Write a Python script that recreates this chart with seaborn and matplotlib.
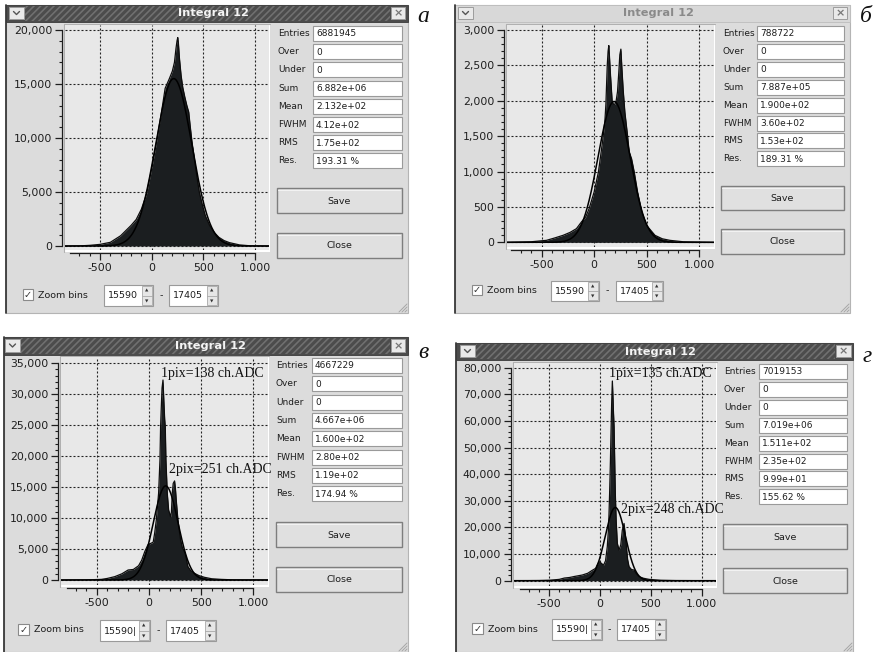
import matplotlib
matplotlib.use("Agg")
import matplotlib.pyplot as plt
from matplotlib.patches import Rectangle
from matplotlib.ticker import FixedLocator
import numpy as np
import seaborn as sns

# ---------------- histogram data (ADC channel, counts) ----------------
A_X = [-840, -700, -600, -500, -400, -300, -200, -150, -100, -50, 0, 50, 100, 130,
       171, 200, 220, 235, 245, 252, 258, 268, 284, 300, 320, 340, 358, 371, 390,
       413, 437, 461, 490, 519, 560, 606, 650, 700, 752, 850, 950, 1140]
A_Y = [0, 10, 60, 150, 340, 950, 1900, 2450, 3400, 4800, 7150, 9800, 12700, 14600,
       15500, 16200, 17000, 18300, 19000, 19300, 18800, 17400, 15800, 14700, 13800,
       13000, 12400, 11200, 9600, 8060, 6400, 4960, 3800, 2790, 1900, 1240, 800, 500,
       310, 100, 20, 0]

B_X = [-840, -600, -455, -380, -296, -230, -169, -121, -80, -48, 0, 41, 80, 102, 112,
       125, 133, 140, 147, 156, 165, 172, 185, 197, 210, 223, 235, 245, 255, 265, 277,
       293, 318, 334, 357, 382, 414, 455, 500, 580, 650, 723, 850, 1140]
B_Y = [0, 8, 28, 60, 99, 140, 193, 288, 360, 476, 712, 995, 1420, 1703, 1950,
       2500, 2700, 2780, 2600, 2360, 2150, 1990, 1950, 1950, 2000, 2130, 2400, 2650,
       2730, 2450, 2150, 1840, 1514, 1280, 1180, 995, 712, 429, 240, 99, 50, 28, 8, 0]

C_X = [-843, -600, -455, -400, -328, -260, -200, -150, -100, -70, -40, -10, 15, 40, 54,
       70, 92, 105, 111, 118, 125, 134, 142, 150, 156, 162, 175, 188, 207, 215, 223,
       232, 245, 253, 261, 277, 290, 303, 320, 347, 360, 373, 400, 436, 480, 532, 600,
       691, 800, 1140]
C_Y = [0, 20, 100, 250, 540, 1000, 1615, 1700, 2300, 3200, 4600, 5700, 5900, 6100, 7540,
       9690, 14000, 19400, 24700, 28000, 31000, 32300, 29000, 26000, 24700, 19400,
       14000, 11300, 10200, 11000, 14000, 15600, 16000, 14800, 12900, 9690, 8000, 6460,
       5200, 4300, 3200, 2150, 1500, 1077, 700, 430, 200, 100, 30, 0]

D_X = [-846, -600, -500, -400, -350, -300, -250, -174, -120, -80, -43, -20, -5, 15, 35,
       55, 72, 85, 95, 103, 110, 116, 122, 129, 132, 139, 145, 151, 160, 171, 188, 205,
       220, 237, 250, 260, 272, 286, 310, 336, 360, 385, 430, 484, 600, 750, 1142]
D_Y = [0, 50, 150, 500, 1000, 1200, 1600, 2130, 2800, 3800, 4630, 6500, 7100, 6500, 5800,
       7500, 12770, 20000, 32800, 45000, 57800, 68000, 75000, 68000, 64000, 57800,
       45000, 32800, 22000, 14000, 11500, 13500, 19000, 21500, 17000, 12770, 8000, 5260,
       4200, 4000, 2500, 1500, 900, 500, 150, 50, 0]

HIST_X = [A_X, B_X, C_X, D_X]
HIST_Y = [A_Y, B_Y, C_Y, D_Y]

# Gaussian fit: amplitude, mean and FWHM of each spectrum
FIT_AMP = [15500, 1990, 15200, 27500]
FIT_MEAN = [213.2, 190.0, 160.0, 151.1]
FIT_FWHM = [412, 360, 280, 235]

# ---------------- statistics panel ----------------
STAT_NAMES = ["Entries", "Over", "Under", "Sum", "Mean", "FWHM", "RMS", "Res."]
A_STATS = ["6881945", "0", "0", "6.882e+06", "2.132e+02", "4.12e+02", "1.75e+02", "193.31 %"]
B_STATS = ["788722", "0", "0", "7.887e+05", "1.900e+02", "3.60e+02", "1.53e+02", "189.31 %"]
C_STATS = ["4667229", "0", "0", "4.667e+06", "1.600e+02", "2.80e+02", "1.19e+02", "174.94 %"]
D_STATS = ["7019153", "0", "0", "7.019e+06", "1.511e+02", "2.35e+02", "9.99e+01", "155.62 %"]
STATS = [A_STATS, B_STATS, C_STATS, D_STATS]

# ---------------- axes ticks ----------------
X_TICKS = [-500, 0, 500, 1000]
X_TICK_LABELS = ["-500", "0", "500", "1.000"]
A_YTICKS = [0, 5000, 10000, 15000, 20000]
B_YTICKS = [0, 500, 1000, 1500, 2000, 2500, 3000]
C_YTICKS = [0, 5000, 10000, 15000, 20000, 25000, 30000, 35000]
D_YTICKS = [0, 10000, 20000, 30000, 40000, 50000, 60000, 70000, 80000]
Y_TICKS = [A_YTICKS, B_YTICKS, C_YTICKS, D_YTICKS]
Y_MINOR_STEP = [1000, 100, 1000, 2000]

WINDOW_TITLE = "Integral 12"
ZOOM_LABEL = "Zoom bins"
BIN_FROM = ["15590", "15590", "15590|", "15590|"]
BIN_TO = "17405"
PANEL_LETTERS = ["а", "б", "в", "г"]
PEAK_NOTES = [[], [], ["1pix=138 ch.ADC", "2pix=251 ch.ADC"],
              ["1pix=135 ch.ADC", "2pix=248 ch.ADC"]]

# ---------------- window geometry (pixels) ----------------
LAYOUT = [
    dict(win=(6, 5, 408, 313), title_h=17, dark=True, chev=(9, 7, 24, 19), close=(391, 7, 405, 19),
         title_xy=(213, 13.5), plot=(65, 25, 269, 250), xlim=(-838, 1134), ylim=(-370, 20463),
         stat_x=(313, 402), stat_top=26, stat_step=18.2, label_x=278,
         save=(277, 188, 402, 213), closeb=(277, 233, 402, 258),
         cb=(23, 289, 33, 300), zoom_x=38, spin1=(104, 285, 153, 306), dash_x=161,
         spin2=(169, 285, 218, 306), letter=(423, 16), notes=[]),
    dict(win=(455, 5, 850, 313), title_h=17, dark=False, chev=(458, 7, 473, 19), close=(833, 7, 847, 19),
         title_xy=(658, 13.5), plot=(507, 25, 714, 247), xlim=(-831, 1143), ylim=(-66, 3071),
         stat_x=(757, 844), stat_top=26, stat_step=17.9, label_x=723,
         save=(721, 186, 844, 210), closeb=(721, 229, 844, 254),
         cb=(472, 285, 482, 295), zoom_x=487, spin1=(551, 281, 599, 301), dash_x=607,
         spin2=(616, 281, 663, 301), letter=(866, 17), notes=[]),
    dict(win=(4, 337, 408, 652), title_h=18, dark=True, chev=(5, 339, 20, 352), close=(391, 339, 405, 352),
         title_xy=(210, 346), plot=(61, 357, 268, 585), xlim=(-843, 1140), ylim=(-808, 36018),
         stat_x=(312, 402), stat_top=358, stat_step=18.3, label_x=276,
         save=(276, 522, 402, 547), closeb=(276, 567, 402, 592),
         cb=(18, 624, 29, 635), zoom_x=34, spin1=(100, 620, 150, 641), dash_x=158,
         spin2=(166, 620, 216, 641), letter=(423, 353), notes=[(212, 373), (220, 470)]),
    dict(win=(456, 343, 853, 652), title_h=17, dark=True, chev=(460, 345, 475, 357), close=(836, 345, 851, 357),
         title_xy=(660, 352), plot=(514, 363, 716, 586), xlim=(-846, 1142), ylim=(-1990, 81765),
         stat_x=(759, 847), stat_top=364, stat_step=17.9, label_x=724,
         save=(723, 524, 847, 549), closeb=(723, 568, 847, 593),
         cb=(472, 623, 483, 634), zoom_x=488, spin1=(552, 619, 602, 640), dash_x=609,
         spin2=(617, 619, 666, 640), letter=(867, 357), notes=[(660, 373), (672, 510)]),
]

W, H = 879, 652
sns.set_theme(style="white")
plt.rcParams["font.family"] = ["DejaVu Sans"]
plt.rcParams["hatch.linewidth"] = 1.2

INK = "#1e1e1e"
WIN_BG = "#dcdcdc"
PLOT_BG = "#e8e8e8"

fig = plt.figure(figsize=(W / 100, H / 100), dpi=100)
fig.patch.set_facecolor("white")

chrome = fig.add_axes([0, 0, 1, 1])
chrome.set_xlim(0, W)
chrome.set_ylim(H, 0)
chrome.axis("off")


def box(r, fc, ec, lw=0.8, z=1, **kw):
    x0, y0, x1, y1 = r
    p = Rectangle((x0, y0), x1 - x0, y1 - y0, facecolor=fc, edgecolor=ec, lw=lw, zorder=z, **kw)
    chrome.add_patch(p)
    return p


def px_rect(r):
    x0, y0, x1, y1 = r
    return [x0 / W, 1 - y1 / H, (x1 - x0) / W, (y1 - y0) / H]


def spinbox(r, text):
    x0, y0, x1, y1 = r
    box(r, "white", "#9a9a9a", lw=0.8, z=2)
    box((x1 - 11, y0 + 1, x1 - 1, y1 - 1), "#e6e6e6", "#a8a8a8", lw=0.6, z=3)
    ym = (y0 + y1) / 2
    chrome.plot([x1 - 11, x1 - 1], [ym, ym], color="#a8a8a8", lw=0.6, zorder=4)
    chrome.text(x1 - 6, (y0 + ym) / 2 + 0.5, "▲", fontsize=3.2, color="#333",
                ha="center", va="center", zorder=5)
    chrome.text(x1 - 6, (ym + y1) / 2 + 0.5, "▼", fontsize=3.2, color="#333",
                ha="center", va="center", zorder=5)
    chrome.text(x0 + 4, ym + 0.5, text, fontsize=6.8, color=INK, ha="left", va="center", zorder=5)


def button(r, text):
    x0, y0, x1, y1 = r
    box(r, "#e0e0e0", "#7e7e7e", lw=1.0, z=2)
    chrome.plot([x0 + 1.5, x1 - 1.5], [y0 + 1.5, y0 + 1.5], color="#f2f2f2", lw=0.8, zorder=3)
    chrome.text((x0 + x1) / 2, (y0 + y1) / 2 + 0.5, text, fontsize=6.8, color=INK,
                ha="center", va="center", zorder=4)


for i, L in enumerate(LAYOUT):
    wx0, wy0, wx1, wy1 = L["win"]
    # window body
    box(L["win"], WIN_BG, "#b4b4b4", lw=0.8, z=1)
    chrome.plot([wx0, wx0], [wy0, wy1], color="#3a3a3a", lw=1.3, zorder=6)

    # title bar
    ty1 = wy0 + L["title_h"]
    if L["dark"]:
        box((wx0, wy0, wx1, ty1), "#4c4c4c", "#3a3a3a", lw=0.6, z=2)
        box((L["chev"][2] + 1, wy0 + 1, L["close"][0] - 1, ty1 - 1), "none", "#707070",
            lw=0, z=3, hatch="/////")
        tcolor = "#f4f4f4"
    else:
        box((wx0, wy0, wx1, ty1), "#d8d8d8", "#bdbdbd", lw=0.6, z=2)
        tcolor = "#8a8a8a"
    box(L["chev"], "#e9e9e9", "#9c9c9c", lw=0.7, z=4)
    cx = (L["chev"][0] + L["chev"][2]) / 2
    cy = (L["chev"][1] + L["chev"][3]) / 2
    chrome.plot([cx - 3, cx, cx + 3], [cy - 1.5, cy + 1.5, cy - 1.5], color="#555", lw=1.0, zorder=5)
    box(L["close"], "#e9e9e9", "#9c9c9c", lw=0.7, z=4)
    chrome.text((L["close"][0] + L["close"][2]) / 2, (L["close"][1] + L["close"][3]) / 2 + 0.5, "×",
                fontsize=8, fontweight="bold", color="#777", ha="center", va="center", zorder=5)
    chrome.text(L["title_xy"][0], L["title_xy"][1], WINDOW_TITLE, fontsize=8.2, fontweight="bold",
                color=tcolor, ha="center", va="center", zorder=5)

    # frame around the plotting area
    px0, py0, px1, py1 = L["plot"]
    box((px0 - 1, py0 - 1, px1 + 1.5, py1 + 1.5), "white", "none", lw=0, z=2)
    chrome.plot([px0 - 1, px1 + 1.5], [py0 - 1, py0 - 1], color="#b0b0b0", lw=0.8, zorder=3)
    chrome.plot([px0 - 1, px0 - 1], [py0 - 1, py1 + 1.5], color="#b0b0b0", lw=0.8, zorder=3)

    # statistics rows
    sx0, sx1 = L["stat_x"]
    for k, (name, val) in enumerate(zip(STAT_NAMES, STATS[i])):
        y0 = L["stat_top"] + k * L["stat_step"]
        box((sx0, y0, sx1, y0 + 15), "white", "#9a9a9a", lw=0.8, z=2)
        chrome.text(L["label_x"], y0 + 7.5, name, fontsize=6.5, color=INK, ha="left", va="center", zorder=3)
        chrome.text(sx0 + 3, y0 + 8, val, fontsize=6.5, color=INK, ha="left", va="center", zorder=3)

    button(L["save"], "Save")
    button(L["closeb"], "Close")

    # zoom-bins controls
    box(L["cb"], "white", "#8a8a8a", lw=0.8, z=2)
    cbx = (L["cb"][0] + L["cb"][2]) / 2
    cby = (L["cb"][1] + L["cb"][3]) / 2
    chrome.text(cbx, cby + 0.5, "✓", fontsize=7, color="#333", ha="center", va="center", zorder=3)
    chrome.text(L["zoom_x"], cby + 0.5, ZOOM_LABEL, fontsize=6.8, color=INK, ha="left", va="center", zorder=3)
    spinbox(L["spin1"], BIN_FROM[i])
    chrome.text(L["dash_x"], (L["spin1"][1] + L["spin1"][3]) / 2, "-", fontsize=6.8, color=INK,
                ha="center", va="center", zorder=3)
    spinbox(L["spin2"], BIN_TO)

    # resize grip
    for d in (3, 6, 9):
        chrome.plot([wx1 - d, wx1 - 1], [wy1 - 1, wy1 - d], color="#a6a6a6", lw=0.7, zorder=3)

    # panel letter
    chrome.text(L["letter"][0], L["letter"][1], PANEL_LETTERS[i], fontsize=17, fontstyle="italic",
                family=["Liberation Serif", "DejaVu Serif"], color="#111", ha="center", va="center")

    # ---------------- spectrum ----------------
    ax = fig.add_axes(px_rect(L["plot"]))
    ax.set_facecolor(PLOT_BG)
    ax.set_xlim(*L["xlim"])
    ax.set_ylim(*L["ylim"])
    ax.set_axisbelow(True)

    hx = np.asarray(HIST_X[i], dtype=float)
    hy = np.asarray(HIST_Y[i], dtype=float)
    ax.fill_between(hx, 0, hy, color="#1b1e20", lw=0, zorder=2)
    sns.lineplot(x=hx, y=hy, ax=ax, color="#0d0d0d", lw=0.9, zorder=3, sort=False)

    sigma = FIT_FWHM[i] / 2.3548
    fx = np.linspace(L["xlim"][0], L["xlim"][1], 500)
    fy = FIT_AMP[i] * np.exp(-0.5 * ((fx - FIT_MEAN[i]) / sigma) ** 2)
    sns.lineplot(x=fx, y=fy, ax=ax, color="#000000", lw=1.1, zorder=4, sort=False)

    yt = Y_TICKS[i]
    ax.set_yticks(yt)
    ax.set_yticklabels([f"{v:,}" for v in yt])
    ax.set_xticks(X_TICKS)
    ax.set_xticklabels(X_TICK_LABELS)
    step = Y_MINOR_STEP[i]
    ax.yaxis.set_minor_locator(FixedLocator([v for v in range(0, yt[-1], step) if v not in yt]))
    ax.xaxis.set_minor_locator(FixedLocator([v for v in range(-700, 1000, 100) if v not in X_TICKS]))

    for s in ("top", "right"):
        ax.spines[s].set_visible(False)
    for s in ("left", "bottom"):
        ax.spines[s].set_visible(True)
        ax.spines[s].set_color(INK)
        ax.spines[s].set_linewidth(0.9)
        ax.spines[s].set_position(("outward", 2.2))
    ax.spines["left"].set_bounds(0, yt[-1])
    ax.spines["bottom"].set_bounds(-790, 1000)

    ax.tick_params(which="major", length=5, width=0.9, color=INK, labelsize=7.8,
                   labelcolor=INK, pad=2, left=True, bottom=True)
    ax.tick_params(which="minor", length=2.5, width=0.8, color=INK, left=True, bottom=True)
    ax.grid(True, which="major", color="#222222", lw=0.8, linestyle=(0, (1.8, 1.8)))
    ax.set_xlabel("")
    ax.set_ylabel("")

    for note, (nx, ny) in zip(PEAK_NOTES[i], L["notes"]):
        ax.text(nx, ny, note, transform=chrome.transData, fontsize=10, color="#111",
                family=["Liberation Serif", "DejaVu Serif"], ha="center", va="center",
                clip_on=False, zorder=6)

fig.savefig("out.png", dpi=100, facecolor="white")
